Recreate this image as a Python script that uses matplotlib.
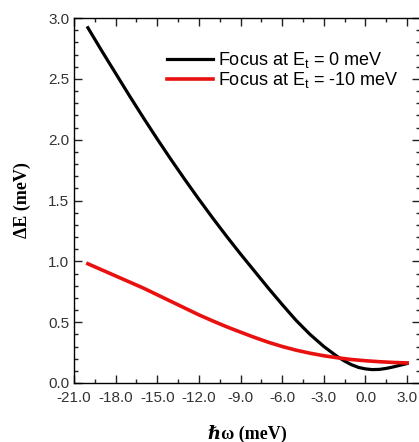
import matplotlib
matplotlib.use("Agg")
import matplotlib.pyplot as plt
from matplotlib.ticker import MultipleLocator, FormatStrFormatter

# values
hw_black = [-20.0, -19.0, -18.0, -17.0, -16.0, -15.0, -14.0, -13.0, -12.0, -11.0, -10.0,
            -9.0, -8.0, -7.0, -6.0, -5.0, -4.0, -3.0, -2.0, -1.5, -1.0, -0.5, 0.0,
            0.5, 1.0, 1.5, 2.0, 2.5, 3.0]
dE_black = [2.92, 2.73, 2.545, 2.36, 2.18, 2.005, 1.835, 1.67, 1.51, 1.355, 1.205,
            1.06, 0.92, 0.78, 0.645, 0.515, 0.40, 0.30, 0.215, 0.18, 0.15, 0.128, 0.116,
            0.110, 0.112, 0.120, 0.132, 0.146, 0.160]

hw_red = [-20.0, -19.0, -18.0, -17.0, -16.0, -15.0, -14.0, -13.0, -12.0, -11.0, -10.0,
          -9.0, -8.0, -7.0, -6.0, -5.0, -4.0, -3.0, -2.0, -1.0, 0.0, 1.0, 2.0, 3.0]
dE_red = [0.98, 0.93, 0.88, 0.83, 0.78, 0.725, 0.67, 0.615, 0.56, 0.51, 0.462,
          0.418, 0.375, 0.335, 0.30, 0.27, 0.245, 0.224, 0.207, 0.193, 0.183, 0.175, 0.169, 0.165]

labels = ["Focus at E$_\\mathregular{t}$ = 0 meV", "Focus at E$_\\mathregular{t}$ = -10 meV"]

plt.rcParams['font.family'] = ['Liberation Sans', 'DejaVu Sans']

fig = plt.figure(figsize=(4.19, 4.42), dpi=100)
ax = fig.add_axes([74 / 419, 59 / 442, 346 / 419, 365 / 442])

ax.plot(hw_black, dE_black, color='black', lw=2.3, label=labels[0])
ax.plot(hw_red, dE_red, color='#e8110f', lw=2.6, label=labels[1])

ax.set_xlim(-21, 3.93)
ax.set_ylim(0, 3.0)
ax.xaxis.set_major_locator(MultipleLocator(3))
ax.xaxis.set_minor_locator(MultipleLocator(1.5))
ax.yaxis.set_major_locator(MultipleLocator(0.5))
ax.yaxis.set_minor_locator(MultipleLocator(0.1))
ax.xaxis.set_major_formatter(FormatStrFormatter('%.1f'))
ax.yaxis.set_major_formatter(FormatStrFormatter('%.1f'))
ax.tick_params(which='both', direction='in', top=True, right=True, labelsize=11,
               colors='#222222', labelcolor='#333333')
ax.tick_params(which='major', length=6, width=1)
ax.tick_params(which='minor', length=3, width=1)
ax.tick_params(axis='x', pad=6)
for s in ax.spines.values():
    s.set_linewidth(1.0)

ax.set_xlabel("ℏω (meV)", family=['Liberation Serif', 'DejaVu Serif'],
              fontweight='bold', fontsize=13, labelpad=14)
ax.set_ylabel("ΔE (meV)", family=['Liberation Serif', 'DejaVu Serif'],
              fontweight='bold', fontsize=13, labelpad=12)

leg = ax.legend(loc='upper left', bbox_to_anchor=(0.269, 0.912), frameon=False,
                fontsize=13, handlelength=2.55, handletextpad=0.28,
                labelspacing=0.0, borderaxespad=0, borderpad=0)

fig.savefig('out.png', dpi=100)
